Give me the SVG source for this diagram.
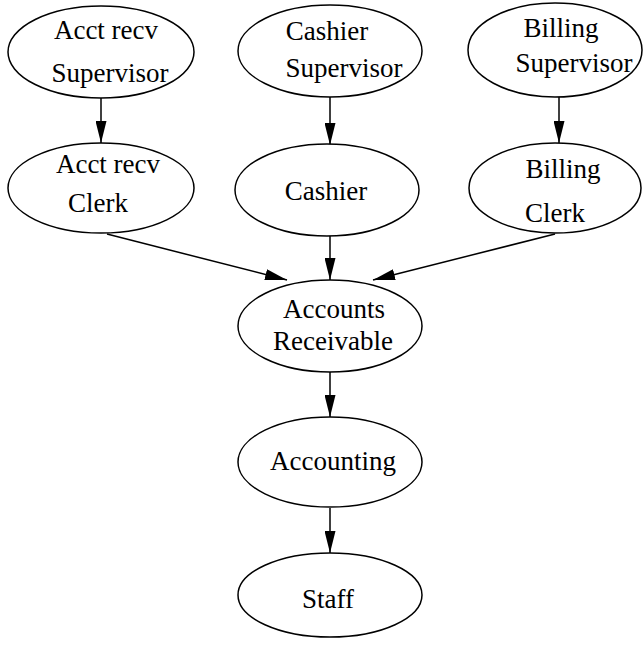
<svg xmlns="http://www.w3.org/2000/svg" width="643" height="645" viewBox="0 0 643 645">
<style>
  .node ellipse { fill: #fff; stroke: #000; stroke-width: 1.5; }
  .node text { font-family: "Liberation Serif", "Times New Roman", serif; font-size: 27px; fill: #000; text-anchor: middle; }
  .edges line { stroke: #000; stroke-width: 1.5; }
</style>
<defs>
  <marker id="arr" viewBox="0 0 22 11" refX="22" refY="5.5" markerWidth="22" markerHeight="11" markerUnits="userSpaceOnUse" orient="auto">
    <path d="M0,0 L22,5.5 L0,11 Z" fill="#000"/>
  </marker>
</defs>
<rect width="643" height="645" fill="#fff"/>
<g class="edges">
  <line x1="101" y1="98" x2="101" y2="143" marker-end="url(#arr)"/>
  <line x1="330" y1="97" x2="330" y2="145" marker-end="url(#arr)"/>
  <line x1="559" y1="97" x2="559" y2="143" marker-end="url(#arr)"/>
  <line x1="107" y1="234" x2="287" y2="280" marker-end="url(#arr)"/>
  <line x1="330" y1="236" x2="330" y2="280" marker-end="url(#arr)"/>
  <line x1="555" y1="234" x2="373" y2="280" marker-end="url(#arr)"/>
  <line x1="330" y1="372" x2="330" y2="417" marker-end="url(#arr)"/>
  <line x1="330" y1="508" x2="330" y2="553" marker-end="url(#arr)"/>
</g>
<g id="acct-recv-supervisor" class="node">
  <ellipse cx="101" cy="52" rx="93" ry="46"/>
  <text x="106" y="39">Acct recv</text>
  <text x="110" y="82">Supervisor</text>
</g>
<g id="cashier-supervisor" class="node">
  <ellipse cx="330" cy="51" rx="92" ry="46"/>
  <text x="327" y="40">Cashier</text>
  <text x="344" y="77">Supervisor</text>
</g>
<g id="billing-supervisor" class="node">
  <ellipse cx="555" cy="50" rx="87" ry="47"/>
  <text x="561" y="37">Billing</text>
  <text x="574" y="72">Supervisor</text>
</g>
<g id="acct-recv-clerk" class="node">
  <ellipse cx="101" cy="188" rx="93" ry="45"/>
  <text x="108" y="173">Acct recv</text>
  <text x="98" y="212">Clerk</text>
</g>
<g id="cashier" class="node">
  <ellipse cx="327" cy="190" rx="92" ry="46"/>
  <text x="326" y="200">Cashier</text>
</g>
<g id="billing-clerk" class="node">
  <ellipse cx="555" cy="188" rx="86" ry="45"/>
  <text x="563" y="178">Billing</text>
  <text x="555" y="222">Clerk</text>
</g>
<g id="accounts-receivable" class="node">
  <ellipse cx="330" cy="326" rx="92" ry="46"/>
  <text x="334" y="318">Accounts</text>
  <text x="333" y="350">Receivable</text>
</g>
<g id="accounting" class="node">
  <ellipse cx="330" cy="462" rx="92" ry="45"/>
  <text x="333" y="470">Accounting</text>
</g>
<g id="staff" class="node">
  <ellipse cx="330" cy="595" rx="92" ry="42"/>
  <text x="328" y="608">Staff</text>
</g>
</svg>
